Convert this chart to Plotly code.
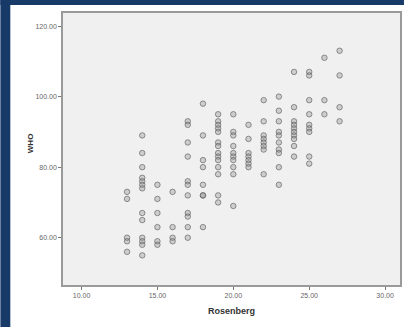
import plotly.graph_objects as go

# Data (Rosenberg vs WHO)
rosenberg = ([13]*5 + [14]*13 + [15]*6 + [16]*4 + [17]*11 + [18]*8 + [19]*14 +
             [20]*10 + [21]*7 + [22]*8 + [23]*10 + [24]*10 + [25]*9 + [26]*3 + [27]*4)
who = [73, 71, 60, 59, 56,
       89, 84, 80, 77, 76, 75, 74, 67, 65, 60, 59, 58, 55,
       75, 71, 67, 63, 59, 58,
       73, 63, 60, 59,
       93, 92, 87, 83, 76, 75, 72, 67, 66, 63, 60,
       98, 89, 82, 80, 75, 72, 72, 63,
       95, 93, 92, 91, 90, 87, 86, 84, 83, 82, 80, 78, 72, 70,
       95, 90, 89, 86, 84, 83, 82, 80, 78, 69,
       92, 88, 84, 83, 82, 81, 80,
       99, 93, 89, 88, 87, 86, 85, 78,
       100, 96, 93, 90, 89, 87, 85, 84, 80, 75,
       107, 97, 93, 92, 91, 90, 89, 88, 86, 83,
       107, 106, 99, 95, 92, 91, 90, 83, 81,
       111, 99, 95,
       113, 106, 97, 93]

x_ticks = [10, 15, 20, 25, 30]
x_tick_labels = ["10.00", "15.00", "20.00", "25.00", "30.00"]
y_ticks = [60, 80, 100, 120]
y_tick_labels = ["60.00", "80.00", "100.00", "120.00"]

W, H = 406, 327
L, R, T, B = 63, 4, 13, 42
pw, ph = W - L - R, H - T - B

def px_x(p):
    return (p - L) / pw

def px_y(p):
    return (H - B - p) / ph

fig = go.Figure()
fig.add_trace(go.Scatter(
    x=rosenberg, y=who, mode="markers",
    marker=dict(symbol="circle", size=5.5,
                color="rgba(140,140,140,0.35)",
                line=dict(color="rgba(85,85,85,0.6)", width=1)),
    hoverinfo="x+y", showlegend=False))

axis_common = dict(showline=True, linecolor="#9a9a9a", linewidth=1.5, mirror=True,
                   showgrid=False, zeroline=False, ticks="outside", ticklen=3,
                   tickcolor="#777", tickwidth=1,
                   tickfont=dict(family="Liberation Sans, Arial", size=7, color="#666"))

fig.update_layout(
    width=W, height=H, autosize=False,
    margin=dict(l=L, r=R, t=T, b=B, pad=0),
    paper_bgcolor="white", plot_bgcolor="#f0f0f0",
    xaxis=dict(range=[8.78, 30.98], tickvals=x_ticks, ticktext=x_tick_labels, **axis_common),
    yaxis=dict(range=[46.6, 123.7], tickvals=y_ticks, ticktext=y_tick_labels, **axis_common),
    shapes=[
        dict(type="rect", xref="paper", yref="paper",
             x0=px_x(0), x1=px_x(10), y0=px_y(H), y1=px_y(0),
             fillcolor="#173a69", line=dict(width=0), layer="above"),
        dict(type="rect", xref="paper", yref="paper",
             x0=px_x(0), x1=px_x(W), y0=px_y(5), y1=px_y(0),
             fillcolor="#173a69", line=dict(width=0), layer="above"),
    ],
    annotations=[
        dict(text="<b>Rosenberg</b>", xref="paper", yref="paper",
             x=px_x(233), y=px_y(311), showarrow=False,
             xanchor="center", yanchor="middle",
             font=dict(family="Liberation Sans, Arial", size=9, color="#333")),
        dict(text="<b>WHO</b>", xref="paper", yref="paper",
             x=px_x(30), y=px_y(143), showarrow=False, textangle=-90,
             xanchor="center", yanchor="middle",
             font=dict(family="Liberation Sans, Arial", size=8, color="#333")),
    ],
)

fig.write_html(
    "out.html",
    config={"displayModeBar": False},
    post_script="document.body.style.margin='0';document.body.style.padding='0';"
                "document.body.style.overflow='hidden';",
)
